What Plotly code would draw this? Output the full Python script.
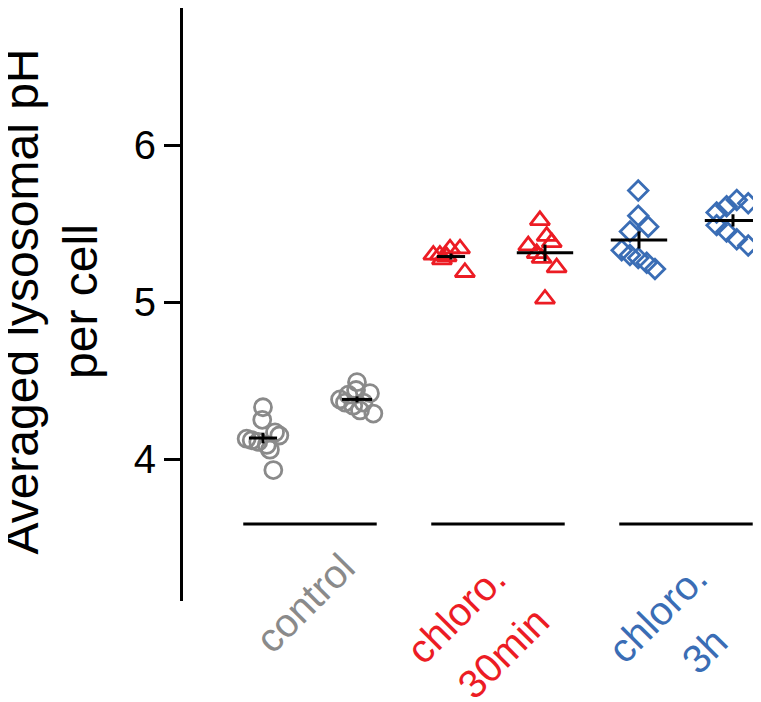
import numpy as np
import plotly.graph_objects as go

groups = ['control', 'chloro. 30min', 'chloro. 3h']
group_colors = ['#8a8a8a', '#ec1c24', '#3a6db5']
group_symbols = ['circle-open', 'triangle-up-open', 'diamond-open']
symbol_sizes = [17, 17, 15]

# averaged lysosomal pH per cell, two samples per condition
control_a = [4.33, 4.25, 4.17, 4.15, 4.13, 4.12, 4.11, 4.09, 4.06, 3.93]
control_b = [4.49, 4.44, 4.41, 4.42, 4.38, 4.36, 4.34, 4.36, 4.29, 4.31]
chloro30_a = [5.30, 5.30, 5.29, 5.34, 5.34, 5.19, 5.27]
chloro30_b = [5.52, 5.42, 5.38, 5.36, 5.31, 5.28, 5.22, 5.02]
chloro3h_a = [5.71, 5.55, 5.48, 5.45, 5.33, 5.30, 5.28, 5.25, 5.21]
chloro3h_b = [5.65, 5.63, 5.61, 5.57, 5.49, 5.45, 5.40, 5.36]

# horizontal scatter of the points inside each sample
control_a_jit = [0.0, -0.004, 0.064, 0.087, -0.087, -0.06, -0.025, 0.02, 0.037, 0.055]
control_b_jit = [0.0, -0.005, -0.046, 0.069, -0.09, -0.064, -0.02, 0.034, 0.087, 0.016]
chloro30_a_jit = [-0.094, -0.059, -0.023, -0.005, 0.048, 0.074, -0.048]
chloro30_b_jit = [-0.027, 0.009, 0.036, -0.089, -0.044, -0.018, 0.062, 0.0]
chloro3h_a_jit = [-0.004, -0.004, 0.049, -0.048, -0.092, -0.048, -0.004, 0.041, 0.085]
chloro3h_b_jit = [0.02, 0.081, -0.034, -0.087, -0.087, -0.034, 0.02, 0.081]

samples = [
    (0, -1, control_a, control_a_jit, 0.075),
    (0, 1, control_b, control_b_jit, 0.08),
    (1, -1, chloro30_a, chloro30_a_jit, 0.075),
    (1, 1, chloro30_b, chloro30_b_jit, 0.15),
    (2, -1, chloro3h_a, chloro3h_a_jit, 0.15),
    (2, 1, chloro3h_b, chloro3h_b_jit, 0.15),
]

FONT = 'Liberation Sans, Arial, sans-serif'


def build_fig():
    fig = go.Figure()

    # group baselines
    lx, ly = [], []
    for g in range(len(groups)):
        lx += [g + 1 - 0.355, g + 1 + 0.355, None]
        ly += [3.586, 3.586, None]
    fig.add_trace(go.Scatter(x=lx, y=ly, mode='lines', cliponaxis=False,
                             line=dict(color='black', width=3), hoverinfo='skip'))

    for g, side, vals, jit, hw in samples:
        xc = g + 1 + side * 0.25
        fig.add_trace(go.Scatter(
            x=[xc + j for j in jit], y=vals, mode='markers', cliponaxis=False,
            marker=dict(symbol=group_symbols[g],
                        size=symbol_sizes[g],
                        color=group_colors[g],
                        line=dict(width=2.8, color=group_colors[g])),
        ))

    # mean (horizontal) and SEM (vertical) crosses
    cx, cy = [], []
    for g, side, vals, jit, hw in samples:
        xc = g + 1 + side * 0.25
        m = np.mean(vals)
        sem = np.std(vals, ddof=1) / np.sqrt(len(vals))
        cx += [xc - hw, xc + hw, None, xc, xc, None]
        cy += [m, m, None, m - sem, m + sem, None]
    fig.add_trace(go.Scatter(x=cx, y=cy, mode='lines', cliponaxis=False,
                             line=dict(color='black', width=3), hoverinfo='skip'))

    # rotated category labels
    labels = [
        ('control', 0.973, -0.0034, 0),
        ('chloro.', 1.777, -0.0219, 1),
        ('30min', 2.027, -0.0880, 1),
        ('chloro.', 2.848, -0.0194, 2),
        ('3h', 3.101, -0.0826, 2),
    ]
    for text, x, y, g in labels:
        fig.add_annotation(text=text, x=x, y=y, xref='x', yref='paper',
                           textangle=-45, showarrow=False,
                           xanchor='center', yanchor='middle',
                           font=dict(size=40, color=group_colors[g], family=FONT))

    for text, shift in [('Averaged lysosomal pH', -162), ('per cell', -102.6)]:
        fig.add_annotation(text=text, x=0, y=0.5, xref='paper', yref='paper',
                           xshift=shift, yshift=3, textangle=-90, showarrow=False,
                           xanchor='center', yanchor='middle',
                           font=dict(size=48, color='black', family=FONT))

    fig.update_layout(
        width=753, height=694,
        margin=dict(l=175, r=0, t=0, b=101),
        paper_bgcolor='white',
        plot_bgcolor='white',
        showlegend=False,
        font=dict(family=FONT, color='black'),
    )
    fig.update_xaxes(range=[0.3245, 3.399], visible=False, showgrid=False, zeroline=False)
    fig.update_yaxes(range=[3.096, 6.873], tickvals=[4, 5, 6], ticktext=['4', '5', '6'],
                     showline=True, linecolor='black', linewidth=3,
                     ticks='outside', ticklen=16, tickwidth=2.5, tickcolor='black',
                     tickfont=dict(size=40, family=FONT, color='black'),
                     showgrid=False, zeroline=False)
    return fig


fig = build_fig()
fig.write_html('out.html')
